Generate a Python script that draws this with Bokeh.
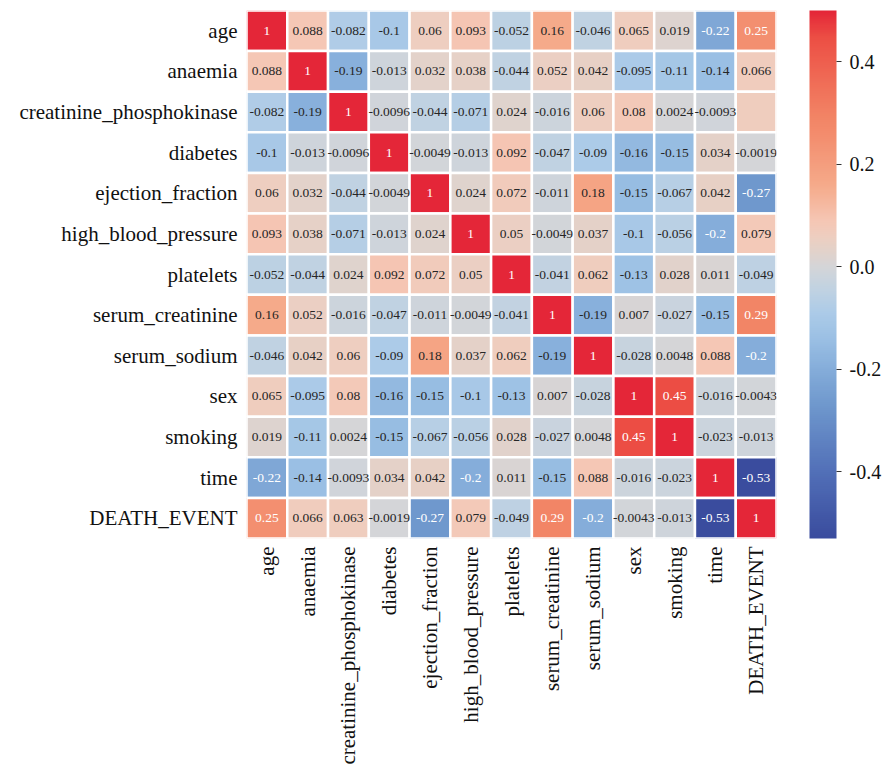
import numpy as np
from bokeh.plotting import figure
from bokeh.models import ColumnDataSource, LinearColorMapper, ColorBar, FixedTicker, PrintfTickFormatter
from bokeh.core.properties import value
from bokeh.embed import file_html
from bokeh.resources import INLINE

variables = ["age", "anaemia", "creatinine_phosphokinase", "diabetes", "ejection_fraction",
             "high_blood_pressure", "platelets", "serum_creatinine", "serum_sodium", "sex",
             "smoking", "time", "DEATH_EVENT"]

r_age = [1, 0.088, -0.082, -0.1, 0.06, 0.093, -0.052, 0.16, -0.046, 0.065, 0.019, -0.22, 0.25]
r_anaemia = [0.088, 1, -0.19, -0.013, 0.032, 0.038, -0.044, 0.052, 0.042, -0.095, -0.11, -0.14, 0.066]
r_cpk = [-0.082, -0.19, 1, -0.0096, -0.044, -0.071, 0.024, -0.016, 0.06, 0.08, 0.0024, -0.0093, 0.063]
r_diabetes = [-0.1, -0.013, -0.0096, 1, -0.0049, -0.013, 0.092, -0.047, -0.09, -0.16, -0.15, 0.034, -0.0019]
r_ef = [0.06, 0.032, -0.044, -0.0049, 1, 0.024, 0.072, -0.011, 0.18, -0.15, -0.067, 0.042, -0.27]
r_hbp = [0.093, 0.038, -0.071, -0.013, 0.024, 1, 0.05, -0.0049, 0.037, -0.1, -0.056, -0.2, 0.079]
r_platelets = [-0.052, -0.044, 0.024, 0.092, 0.072, 0.05, 1, -0.041, 0.062, -0.13, 0.028, 0.011, -0.049]
r_screat = [0.16, 0.052, -0.016, -0.047, -0.011, -0.0049, -0.041, 1, -0.19, 0.007, -0.027, -0.15, 0.29]
r_ssod = [-0.046, 0.042, 0.06, -0.09, 0.18, 0.037, 0.062, -0.19, 1, -0.028, 0.0048, 0.088, -0.2]
r_sex = [0.065, -0.095, 0.08, -0.16, -0.15, -0.1, -0.13, 0.007, -0.028, 1, 0.45, -0.016, -0.0043]
r_smoking = [0.019, -0.11, 0.0024, -0.15, -0.067, -0.056, 0.028, -0.027, 0.0048, 0.45, 1, -0.023, -0.013]
r_time = [-0.22, -0.14, -0.0093, 0.034, 0.042, -0.2, 0.011, -0.15, 0.088, -0.016, -0.023, 1, -0.53]
r_death = [0.25, 0.066, 0.063, -0.0019, -0.27, 0.079, -0.049, 0.29, -0.2, -0.0043, -0.013, -0.53, 1]

rows = [r_age, r_anaemia, r_cpk, r_diabetes, r_ef, r_hbp, r_platelets, r_screat, r_ssod,
        r_sex, r_smoking, r_time, r_death]

# cells whose annotation is missing in the original (row, column)
blank_labels = [("creatinine_phosphokinase", "DEATH_EVENT")]

cb_ticks = [-0.4, -0.2, 0.0, 0.2, 0.4]
vmin, vmax = -0.53, 0.5

# colour map anchors (value, rgb)
anchors = [
    (-0.53, (58, 76, 158)),
    (-0.40, (82, 112, 184)),
    (-0.27, (111, 152, 205)),
    (-0.20, (133, 173, 218)),
    (-0.14, (155, 192, 228)),
    (-0.09, (172, 203, 232)),
    (-0.045, (192, 210, 226)),
    (0.0, (212, 213, 216)),
    (0.03, (226, 210, 202)),
    (0.06, (238, 206, 192)),
    (0.09, (245, 198, 180)),
    (0.16, (245, 170, 138)),
    (0.25, (243, 143, 112)),
    (0.30, (242, 130, 100)),
    (0.45, (236, 78, 68)),
    (0.50, (228, 38, 56)),
]
av = np.array([a[0] for a in anchors])
ac = np.array([a[1] for a in anchors], dtype=float)


def cmap(v):
    return [np.interp(v, av, ac[:, k]) for k in range(3)]


palette = []
for t in np.linspace(vmin, vmax, 256):
    c = cmap(t)
    palette.append("#%02x%02x%02x" % tuple(int(round(x)) for x in c))


def lum(c):
    out = []
    for x in c:
        x = x / 255.0
        out.append(x / 12.92 if x <= 0.03928 else ((x + 0.055) / 1.055) ** 2.4)
    return 0.2126 * out[0] + 0.7152 * out[1] + 0.0722 * out[2]


xs, ys, vals, labels, tcolors = [], [], [], [], []
for i, rname in enumerate(variables):
    for j, cname in enumerate(variables):
        v = rows[i][j]
        xs.append(cname)
        ys.append(rname)
        vals.append(v)
        labels.append("" if (rname, cname) in blank_labels else format(v, ".2g"))
        tcolors.append("white" if lum(cmap(v)) < 0.408 else "#262626")

src = ColumnDataSource(dict(x=xs, y=ys, v=vals, label=labels, tc=tcolors))

mapper = LinearColorMapper(palette=palette, low=vmin, high=vmax)

p = figure(x_range=variables, y_range=list(reversed(variables)),
           frame_width=530, frame_height=528,
           output_backend="svg", toolbar_location=None,
           min_border_top=10, min_border_left=246, min_border_bottom=0, min_border_right=0)
p.outline_line_color = None
p.grid.grid_line_color = None

p.rect(x="x", y="y", width=1, height=1, source=src,
       fill_color={"field": "v", "transform": mapper},
       line_color="white", line_width=2.5)

p.text(x="x", y="y", text="label", source=src, text_color="tc",
       text_align="center", text_baseline="middle",
       text_font=value("Liberation Serif"), text_font_size="13.5px")

for ax in (p.xaxis, p.yaxis):
    ax.axis_line_color = None
    ax.major_tick_line_color = None
    ax.major_tick_out = 0
    ax.major_tick_in = 0
    ax.minor_tick_line_color = None
    ax.major_label_text_font = "Liberation Serif"
    ax.major_label_text_font_size = "21px"
    ax.major_label_text_color = "#111111"
    ax.major_label_standoff = 8

p.yaxis.major_label_standoff = 9
p.xaxis.major_label_orientation = np.pi / 2

cb = ColorBar(color_mapper=mapper, width=27, height=528,
              ticker=FixedTicker(ticks=cb_ticks),
              formatter=PrintfTickFormatter(format="%.1f"),
              major_label_text_font="Liberation Serif",
              major_label_text_font_size="20px",
              major_label_text_color="#111111",
              major_tick_out=5, major_tick_in=0,
              major_tick_line_color="#333333",
              bar_line_color=None, border_line_color=None,
              background_fill_alpha=0,
              label_standoff=8, padding=0, margin=0, location=(33, 0))
p.add_layout(cb, "right")
p.min_border_right = 100

open("out.html", "w").write(file_html(p, INLINE))
